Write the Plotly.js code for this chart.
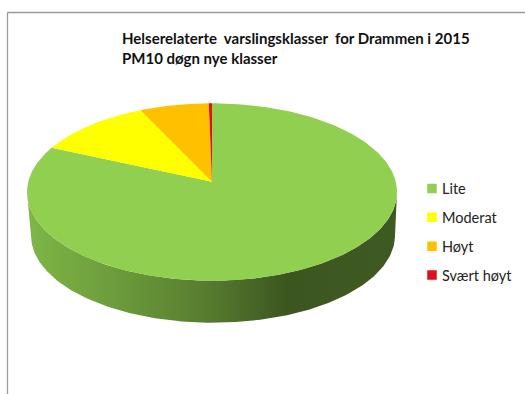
<!DOCTYPE html>
<html>
<head>
<meta charset="utf-8">
<script src="https://cdn.plot.ly/plotly-3.0.1.min.js"></script>
<style>html,body{margin:0;padding:0;background:#fff}</style>
</head>
<body>
<div id="chart" style="width:525px;height:394px"></div>
<script>
// Days per warning class, PM10 daily values, Drammen 2015
const categories = ["Lite", "Moderat", "Høyt", "Svært høyt"];
const days = [304, 38, 22, 1];
const colors = ["#90cf50", "#ffff00", "#ffc000", "#e0101c"];
const titleLines = ["Helserelaterte\u00a0 varslingsklasser\u00a0 for Drammen i 2015", "PM10 døgn nye klasser"];

// Tilted disc geometry, in axis units
const top_ = {cx: 212, cy: 192, rx: 185, ry: 88.7};
const bottom_ = {cx: 213, cy: 235.5, rx: 182, ry: 87.2};
const apex = {x: 212, y: 181.7};

const rad = d => d * Math.PI / 180;
const rim = (e, deg) => [e.cx + e.rx * Math.sin(rad(deg)), e.cy - e.ry * Math.cos(rad(deg))];

function arc(e, from, to) {
  const n = Math.max(2, Math.ceil(Math.abs(to - from)));
  const pts = [];
  for (let i = 0; i <= n; i++) pts.push(rim(e, from + (to - from) * i / n));
  return pts;
}

// Side wall of the disc: front half of the upper rim, back along the lower rim
const wallPts = arc(top_, 90, 270).concat(arc(bottom_, 270, 90));
const traces = [{
  type: "scatter", mode: "lines", showlegend: false, hoverinfo: "skip",
  x: wallPts.map(p => p[0]), y: wallPts.map(p => p[1]),
  line: {width: 0}, fill: "toself",
  fillgradient: {
    type: "horizontal", start: 28, stop: 397,
    colorscale: [[0, "#7eb646"], [0.25, "#6b9a3b"], [0.5, "#557a2e"], [0.7, "#3c5620"], [1, "#3e5a22"]]
  }
}];

// One wedge per class, angle proportional to its number of days
const total = days.reduce((a, b) => a + b, 0);
let start = 0;
categories.forEach((name, i) => {
  const end = start + days[i] / total * 360;
  const pts = [[apex.x, apex.y]].concat(arc(top_, start, end));
  pts.push([apex.x, apex.y]);
  traces.push({
    type: "scatter", mode: "lines", showlegend: false, name, hoverinfo: "name",
    x: pts.map(p => p[0]), y: pts.map(p => p[1]),
    line: {width: 0}, fill: "toself", fillcolor: colors[i]
  });
  start = end;
});

// Square legend keys
categories.forEach((name, i) => {
  traces.push({
    type: "scatter", mode: "markers", name, legendgroup: name, hoverinfo: "skip",
    x: [null], y: [null],
    marker: {symbol: "square", size: 9.5, color: colors[i]}
  });
});

const layout = {
  width: 525, height: 394,
  margin: {l: 0, r: 0, t: 0, b: 0, autoexpand: false},
  paper_bgcolor: "#ffffff", plot_bgcolor: "#ffffff",
  font: {family: "Lato, sans-serif", color: "#111111"},
  title: {
    text: titleLines.join("<br>"),
    font: {family: "Lato, sans-serif", size: 15, weight: 700, color: "#111111"},
    xref: "paper", yref: "paper", x: 122 / 525, xanchor: "left", y: 1 - 44 / 394, yanchor: "top"
  },
  xaxis: {range: [0, 525], visible: false, fixedrange: true},
  yaxis: {range: [394, 0], visible: false, fixedrange: true},
  legend: {
    x: 422 / 525, xanchor: "left", y: 1 - 172.5 / 394, yanchor: "top",
    font: {family: "Lato, sans-serif", size: 14.5, color: "#222222"},
    tracegroupgap: 7, itemwidth: 30, indentation: -10, bgcolor: "rgba(0,0,0,0)"
  },
  shapes: [
    {type: "line", xref: "paper", yref: "paper", x0: 7.5 / 525, x1: 1, y0: 1 - 12.5 / 394, y1: 1 - 12.5 / 394, line: {color: "#9a9a9a", width: 1.3}},
    {type: "line", xref: "paper", yref: "paper", x0: 7.5 / 525, x1: 7.5 / 525, y0: 1 - 12.5 / 394, y1: 0, line: {color: "#9a9a9a", width: 1.3}}
  ]
};

Plotly.newPlot("chart", traces, layout, {displayModeBar: false, staticPlot: true}).then(() => {
  // Tighten the gap between each legend key and its label
  document.querySelectorAll(".legend .legendtext").forEach(t => {
    t.setAttribute("x", parseFloat(t.getAttribute("x")) - 10);
  });
});
</script>
</body>
</html>
